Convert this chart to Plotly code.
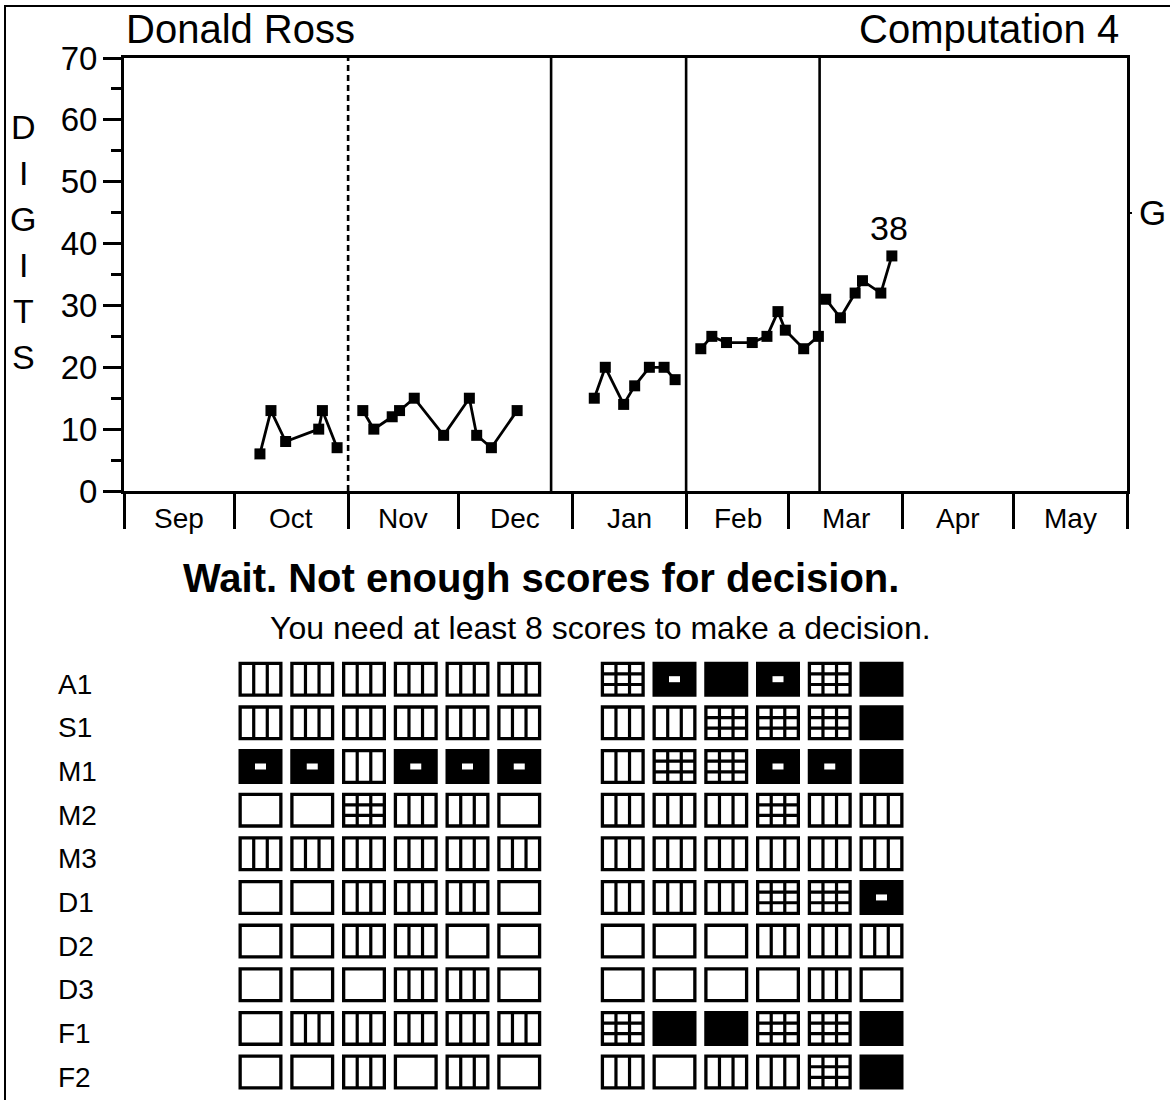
import plotly.graph_objects as go
import pandas as pd

# ---------------- data ----------------
student = "Donald Ross"
measure = "Computation 4"
y_label = "DIGITS"

month_names = ["Sep", "Oct", "Nov", "Dec", "Jan", "Feb", "Mar", "Apr", "May"]
month_starts = ["2018-09-01", "2018-10-01", "2018-11-01", "2018-12-01", "2019-01-01",
                "2019-02-01", "2019-03-01", "2019-04-01", "2019-05-01", "2019-06-01"]

oct_dates = ["2018-10-08", "2018-10-11", "2018-10-15", "2018-10-24", "2018-10-25", "2018-10-29"]
oct_scores = [6, 13, 8, 10, 13, 7]

novdec_dates = ["2018-11-05", "2018-11-08", "2018-11-13", "2018-11-15", "2018-11-19",
                "2018-11-27", "2018-12-04", "2018-12-06", "2018-12-10", "2018-12-17"]
novdec_scores = [13, 10, 12, 13, 15, 9, 15, 9, 7, 13]

jan_dates = ["2019-01-07", "2019-01-10", "2019-01-15", "2019-01-18", "2019-01-22",
             "2019-01-26", "2019-01-29"]
jan_scores = [15, 20, 14, 17, 20, 20, 18]

feb_dates = ["2019-02-05", "2019-02-08", "2019-02-12", "2019-02-19", "2019-02-23",
             "2019-02-26", "2019-02-28", "2019-03-05", "2019-03-09"]
feb_scores = [23, 25, 24, 24, 25, 29, 26, 23, 25]

mar_dates = ["2019-03-11", "2019-03-15", "2019-03-19", "2019-03-21", "2019-03-26", "2019-03-29"]
mar_scores = [31, 28, 32, 34, 32, 38]

phase_dates = [oct_dates, novdec_dates, jan_dates, feb_dates, mar_dates]
phase_scores = [oct_scores, novdec_scores, jan_scores, feb_scores, mar_scores]

phase_change_dates = ["2018-11-01", "2018-12-26 06:00", "2019-02-01", "2019-03-09 08:00"]
phase_change_dash = ["6px,4px", "solid", "solid", "solid"]

goal_value = 45
y_ticks = [0, 10, 20, 30, 40, 50, 60, 70]

decision_text = "Wait. Not enough scores for decision."
decision_note = "You need at least 8 scores to make a decision."

skills = ["A1", "S1", "M1", "M2", "M3", "D1", "D2", "D3", "F1", "F2"]
# mastery level per skill per probe: 0 empty, 1 columns, 2 grid, 3 black with dot, 4 black
skill_A1 = [1, 1, 1, 1, 1, 1, 2, 3, 4, 3, 2, 4]
skill_S1 = [1, 1, 1, 1, 1, 1, 1, 1, 2, 2, 2, 4]
skill_M1 = [3, 3, 1, 3, 3, 3, 1, 2, 2, 3, 3, 4]
skill_M2 = [0, 0, 2, 1, 1, 0, 1, 1, 1, 2, 1, 1]
skill_M3 = [1, 1, 1, 1, 1, 1, 1, 1, 1, 1, 1, 1]
skill_D1 = [0, 0, 1, 1, 1, 0, 1, 1, 1, 2, 2, 3]
skill_D2 = [0, 0, 1, 1, 0, 0, 0, 0, 0, 1, 1, 1]
skill_D3 = [0, 0, 0, 1, 1, 0, 0, 0, 0, 0, 1, 0]
skill_F1 = [0, 1, 1, 1, 1, 1, 2, 4, 4, 2, 2, 4]
skill_F2 = [0, 0, 1, 0, 1, 0, 1, 0, 1, 1, 2, 4]
mastery = [skill_A1, skill_S1, skill_M1, skill_M2, skill_M3,
           skill_D1, skill_D2, skill_D3, skill_F1, skill_F2]

# ---------------- layout constants (pixels) ----------------
W, H = 1170, 1100
FONT = "Liberation Sans, Arial, sans-serif"


def px(xp):
    return xp / W


def py(yp):
    return 1 - yp / H


plot_left, plot_right, plot_top, plot_bottom = 124, 1127, 58, 491

# icon grid geometry
icon_x0_px, icon_dx_px = 260.5, 51.75     # centre of first column, column step
icon_y0_px, icon_dy_px = 679.2, 43.65     # centre of first row, row step
icon_w_px, icon_h_px, icon_border = 44, 35, 3.3
grid_dom_x = (150, 950)
grid_dom_y = (649, 1100)

fig = go.Figure()

# ---------------- main chart traces ----------------
for d, s in zip(phase_dates, phase_scores):
    fig.add_trace(go.Scatter(
        x=d, y=s, mode="lines+markers",
        line=dict(color="black", width=2.8),
        marker=dict(symbol="square", size=11, color="black"),
        xaxis="x", yaxis="y", hoverinfo="x+y", showlegend=False))

# goal axis helper trace (invisible)
fig.add_trace(go.Scatter(x=[month_starts[-1]], y=[goal_value], mode="markers",
                         marker=dict(opacity=0), xaxis="x", yaxis="y3",
                         hoverinfo="skip", showlegend=False))

# icon grid helper trace (invisible) to create its axes
col_pos = [c + (1 if c >= 6 else 0) for c in range(12)]
fig.add_trace(go.Scatter(
    x=[col_pos[c] for r in range(len(skills)) for c in range(12)],
    y=[r for r in range(len(skills)) for c in range(12)],
    mode="markers", marker=dict(opacity=0), xaxis="x2", yaxis="y2",
    hoverinfo="skip", showlegend=False))

shapes = []
# phase change lines
for d, dash in zip(phase_change_dates, phase_change_dash):
    shapes.append(dict(type="line", xref="x", yref="y", x0=d, x1=d, y0=0, y1=y_ticks[-1],
                       line=dict(color="black", width=2.6, dash=dash), layer="above"))

# outer frame
shapes.append(dict(type="rect", xref="paper", yref="paper", x0=px(5), x1=1.05,
                   y0=-0.05, y1=py(6), line=dict(color="black", width=2),
                   fillcolor="rgba(0,0,0,0)"))

# icons
hw = (icon_w_px - icon_border) / 2 / icon_dx_px
hh = (icon_h_px - icon_border) / 2 / icon_dy_px
dot_hw = 5.5 / icon_dx_px
dot_hh = 3.0 / icon_dy_px
for r, row in enumerate(mastery):
    for c, lvl in enumerate(row):
        cx, cy = col_pos[c], r
        x0, x1, y0, y1 = cx - hw, cx + hw, cy - hh, cy + hh
        fill = "black" if lvl >= 3 else "white"
        shapes.append(dict(type="rect", xref="x2", yref="y2", x0=x0, x1=x1, y0=y0, y1=y1,
                           line=dict(color="black", width=icon_border), fillcolor=fill))
        if lvl in (1, 2):
            w = x1 - x0
            h = y1 - y0
            p = ""
            for k in (1, 2):
                xv = x0 + w * k / 3
                p += f"M{xv},{y0} L{xv},{y1} "
            if lvl == 2:
                for k in (1, 2):
                    yv = y0 + h * k / 3
                    p += f"M{x0},{yv} L{x1},{yv} "
            shapes.append(dict(type="path", xref="x2", yref="y2", path=p.strip(),
                               line=dict(color="black", width=3.2)))
        if lvl == 3:
            shapes.append(dict(type="rect", xref="x2", yref="y2",
                               x0=cx - dot_hw, x1=cx + dot_hw, y0=cy - dot_hh, y1=cy + dot_hh,
                               line=dict(width=0), fillcolor="white"))

annotations = []
# titles
annotations.append(dict(text=student, x=px(240), y=py(29), xref="paper", yref="paper",
                        xanchor="center", yanchor="middle", showarrow=False,
                        font=dict(size=40, family=FONT, color="black")))
annotations.append(dict(text=measure, x=px(1121), y=py(29), xref="paper", yref="paper",
                        xanchor="right", yanchor="middle", showarrow=False,
                        font=dict(size=40, family=FONT, color="black")))
# vertical DIGITS label
letter_y = [127, 173, 219, 265, 311, 357]
for ch, ly in zip(y_label, letter_y):
    annotations.append(dict(text=ch, x=px(23), y=py(ly), xref="paper", yref="paper",
                            xanchor="center", yanchor="middle", showarrow=False,
                            font=dict(size=34, family=FONT, color="black")))
# month labels at middle of each month
ms = pd.to_datetime(pd.Series(month_starts))
for i, name in enumerate(month_names):
    mid = ms[i] + (ms[i + 1] - ms[i]) / 2
    annotations.append(dict(text=name, x=mid, y=py(518), xref="x", yref="paper",
                            xanchor="center", yanchor="middle", showarrow=False,
                            font=dict(size=28, family=FONT, color="black")))
# last score label
annotations.append(dict(text=str(mar_scores[-1]), x=mar_dates[-1], y=mar_scores[-1],
                        xref="x", yref="y", xanchor="center", yanchor="bottom",
                        yshift=7, xshift=-3, showarrow=False,
                        font=dict(size=34, family=FONT, color="black")))
# decision texts
annotations.append(dict(text="<b>" + decision_text + "</b>", x=px(541), y=py(578),
                        xref="paper", yref="paper", xanchor="center", yanchor="middle",
                        showarrow=False, font=dict(size=40, family=FONT, color="black")))
annotations.append(dict(text=decision_note, x=px(600), y=py(628),
                        xref="paper", yref="paper", xanchor="center", yanchor="middle",
                        showarrow=False, font=dict(size=32, family=FONT, color="black")))
# skill row labels
for r, s in enumerate(skills):
    annotations.append(dict(text=s, x=px(56), y=r, xref="paper", yref="y2",
                            xanchor="left", yanchor="middle", yshift=-5, showarrow=False,
                            font=dict(size=28, family=FONT, color="black")))

# icon axis ranges derived from pixel geometry
gx_lo = (grid_dom_x[0] - icon_x0_px) / icon_dx_px
gx_hi = (grid_dom_x[1] - icon_x0_px) / icon_dx_px
gy_top = (grid_dom_y[0] - icon_y0_px) / icon_dy_px
gy_bot = (grid_dom_y[1] - icon_y0_px) / icon_dy_px

fig.update_layout(
    width=W, height=H, margin=dict(l=0, r=0, t=0, b=0, pad=0, autoexpand=False),
    paper_bgcolor="white", plot_bgcolor="rgba(0,0,0,0)",
    showlegend=False, font=dict(family=FONT, color="black"),
    xaxis=dict(type="date", domain=[px(plot_left), px(plot_right)],
               range=[month_starts[0], month_starts[-1]],
               tickmode="array", tickvals=month_starts, ticks="outside",
               ticklen=35, tickwidth=2.5, tickcolor="black", showticklabels=False,
               showline=True, linewidth=3, linecolor="black", mirror=True,
               showgrid=False, zeroline=False, fixedrange=True, automargin=False),
    yaxis=dict(domain=[py(plot_bottom), py(plot_top)], range=[0, y_ticks[-1]],
               tickmode="array", tickvals=y_ticks, ticks="outside", ticklen=18,
               tickwidth=3, tickcolor="black", ticklabelstandoff=-1,
               tickfont=dict(size=33, family=FONT, color="black"),
               minor=dict(dtick=5, ticks="outside", ticklen=10, tickwidth=3, tickcolor="black"),
               showline=True, linewidth=3, linecolor="black", mirror=True,
               showgrid=False, zeroline=False, fixedrange=True, automargin=False),
    yaxis3=dict(overlaying="y", side="right", anchor="x", range=[0, y_ticks[-1]],
                tickmode="array", tickvals=[goal_value], ticktext=["G"],
                ticks="outside", ticklen=4, tickwidth=2, tickcolor="black",
                tickfont=dict(size=35, family=FONT, color="black"),
                showline=False, showgrid=False, zeroline=False, fixedrange=True,
                automargin=False),
    xaxis2=dict(domain=[px(grid_dom_x[0]), px(grid_dom_x[1])], range=[gx_lo, gx_hi],
                anchor="y2", visible=False, fixedrange=True, automargin=False),
    yaxis2=dict(domain=[py(grid_dom_y[1]), py(grid_dom_y[0])], range=[gy_bot, gy_top],
                anchor="x2", visible=False, fixedrange=True, automargin=False),
    shapes=shapes, annotations=annotations,
)

fig.write_html("out.html", config={"displayModeBar": False},
               post_script="document.body.style.margin='0px';document.body.style.overflow='hidden';")
